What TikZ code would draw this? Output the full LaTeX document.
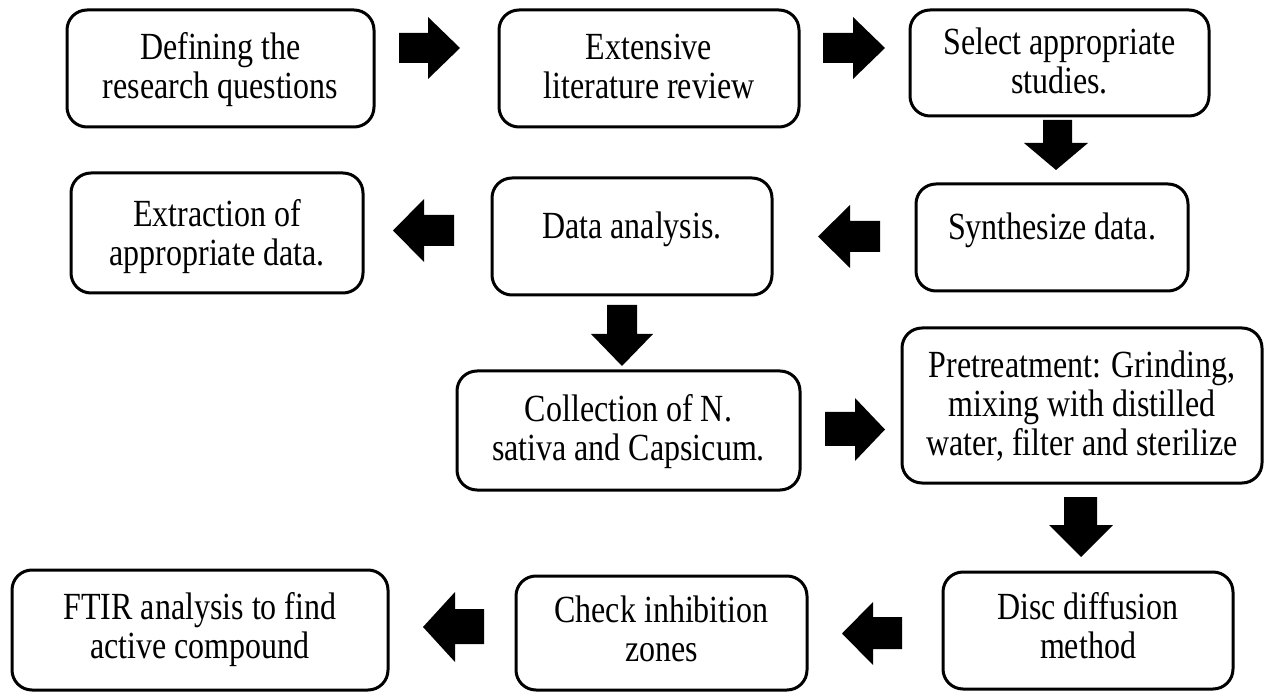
\documentclass[tikz,border=0pt]{standalone}
\usepackage{fontspec}
\usepackage{graphicx}
\setmainfont{Liberation Serif}
\newcommand{\tallt}[2][3pt]{\raisebox{-#1}[\height][\depth]{\scalebox{1}[1.2]{\begin{tabular}{@{}c@{}}#2\end{tabular}}}}
\begin{document}
\begin{tikzpicture}[x=1pt,y=-1pt,
  box/.style={draw, line width=3pt, rounded corners=20pt, inner sep=0pt,
    font=\fontsize{32}{32.5}\selectfont},
  topbox/.style={box, text height=27.3pt, text depth=25.3pt},
  blk/.style={fill=black, draw=none}]
\useasboundingbox (0,0) rectangle (1264,692);
% boxes
\node[box, minimum width=307pt, minimum height=117pt] (b1) at (220.5,68.5) {\tallt{Defining the\\research questions}};
\node[box, minimum width=300pt, minimum height=117pt] (b2) at (649,68.5) {\tallt{Extensive\\literature review}};
\node[box, minimum width=299pt, minimum height=106pt] (b3) at (1059.5,63) {\tallt{Select appropriate\\studies.}};
\node[topbox, minimum width=272pt, minimum height=107pt] (b4) at (1052,237.5) {\tallt[1pt]{Synthesize data.}};
\node[topbox, minimum width=280pt, minimum height=117pt] (b5) at (632,236.5) {\tallt[1pt]{Data analysis.}};
\node[box, minimum width=292pt, minimum height=120pt] (b6) at (217,233) {\tallt[5pt]{Extraction of\\appropriate data.}};
\node[box, minimum width=343pt, minimum height=119pt] (b7) at (628.5,430.5) {\tallt{Collection of N.\\sativa and Capsicum.}};
\node[box, minimum width=360pt, minimum height=155pt] (b8) at (1082,405.5) {\tallt{Pretreatment: Grinding,\\mixing with distilled\\water, filter and sterilize}};
\node[box, minimum width=290pt, minimum height=117pt] (b9) at (1088,630.5) {\tallt[1pt]{Disc diffusion\\method}};
\node[box, minimum width=291pt, minimum height=114pt] (b10) at (661.5,633) {\tallt[1pt]{Check inhibition\\zones}};
\node[box, minimum width=376pt, minimum height=120pt] (b11) at (200,630) {\tallt[1pt]{FTIR analysis to find\\active compound}};
% block arrows
% b1 -> b2
\fill[blk] (399,33) -- (428,33) -- (428,17) -- (460,48) -- (428,79) -- (428,63) -- (399,63) -- cycle;
% b2 -> b3
\fill[blk] (823,33) -- (853,33) -- (853,17) -- (885,48) -- (853,79) -- (853,63) -- (823,63) -- cycle;
% b3 -> b4
\fill[blk] (1043,120) -- (1072,120) -- (1072,143) -- (1088,143) -- (1056,170) -- (1024,143) -- (1043,143) -- cycle;
% b4 -> b5
\fill[blk] (880,221) -- (850,221) -- (850,205) -- (818,236.5) -- (850,268) -- (850,252) -- (880,252) -- cycle;
% b5 -> b6
\fill[blk] (454,215) -- (424,215) -- (424,199) -- (393,230.5) -- (424,262) -- (424,246) -- (454,246) -- cycle;
% b5 -> b7
\fill[blk] (607,305) -- (637,305) -- (637,334) -- (653,334) -- (622,366) -- (591,334) -- (607,334) -- cycle;
% b7 -> b8
\fill[blk] (825,412) -- (855,412) -- (855,398) -- (885,429.5) -- (855,461) -- (855,446) -- (825,446) -- cycle;
% b8 -> b9
\fill[blk] (1064,497) -- (1097,497) -- (1097,525) -- (1113,525) -- (1081,557) -- (1049,525) -- (1064,525) -- cycle;
% b9 -> b10
\fill[blk] (902,617) -- (873,617) -- (873,602) -- (842,633.5) -- (873,665) -- (873,649) -- (902,649) -- cycle;
% b10 -> b11
\fill[blk] (484,609) -- (455,609) -- (455,592) -- (423,627) -- (455,662) -- (455,644) -- (484,644) -- cycle;
\end{tikzpicture}
\end{document}
